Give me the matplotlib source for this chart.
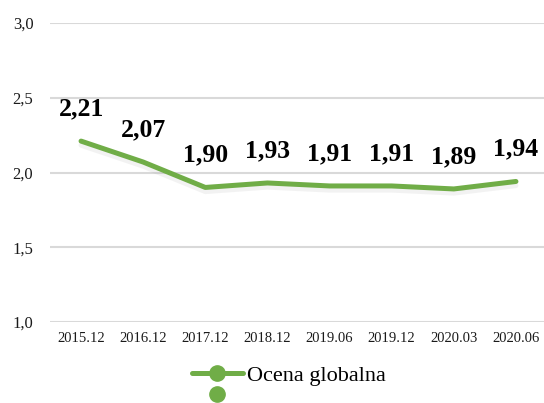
import matplotlib
matplotlib.use('Agg')
import matplotlib.pyplot as plt
import matplotlib.patheffects as pe
from matplotlib.lines import Line2D
from matplotlib.ticker import FuncFormatter, MultipleLocator

# dane
okresy = ['2015.12', '2016.12', '2017.12', '2018.12', '2019.06', '2019.12', '2020.03', '2020.06']
ocena = [2.21, 2.07, 1.90, 1.93, 1.91, 1.91, 1.89, 1.94]
nazwa_serii = 'Ocena globalna'

zielony = '#70AD47'
plt.rcParams['font.family'] = 'serif'
plt.rcParams['font.serif'] = ['Liberation Serif', 'Times New Roman', 'DejaVu Serif']

fig = plt.figure(figsize=(5.44, 4.03), dpi=100)
ax = fig.add_axes([50 / 544, 81 / 403, 497 / 544, 299 / 403])

x = list(range(len(okresy)))
ax.plot(x, ocena, color=zielony, lw=3.6, solid_capstyle='round', zorder=3,
        path_effects=[pe.SimpleLineShadow(offset=(0, -3), shadow_color='#999999', alpha=0.12),
                      pe.Normal()])

# etykiety wartości nad punktami
for xi, v in zip(x, ocena):
    ax.annotate(f'{v:.2f}'.replace('.', ','), (xi, v), xytext=(0, 23.4),
                textcoords='offset points', ha='center', va='center',
                fontsize=18.5, fontweight='bold', color='black')

ax.set_xlim(-0.5, len(okresy) - 0.5)
ax.set_ylim(1.0, 3.0)
ax.yaxis.set_major_locator(MultipleLocator(0.5))
ax.yaxis.set_major_formatter(FuncFormatter(lambda v, p: f'{v:.1f}'.replace('.', ',')))
ax.set_xticks(x)
ax.set_xticklabels(okresy)
ax.tick_params(axis='y', length=0, pad=12, labelsize=12, labelcolor='#1a1a1a')
ax.tick_params(axis='x', length=0, pad=7, labelsize=10.5, labelcolor='#1a1a1a')
ax.grid(axis='y', color='#D9D9D9', lw=1.5)
ax.set_axisbelow(True)
for s in ax.spines.values():
    s.set_visible(False)

uchwyty = [
    Line2D([], [], color=zielony, lw=3.6, marker='o', markersize=11, solid_capstyle='round'),
    Line2D([], [], color=zielony, lw=0, marker='o', markersize=11),
]
fig.legend(uchwyty, [nazwa_serii, ' '], loc='center', bbox_to_anchor=(0.531, 0.042),
           frameon=False, fontsize=16, handlelength=2.3, handletextpad=0.2,
           labelspacing=0.0, borderpad=0)

fig.savefig('out.png', dpi=100)
